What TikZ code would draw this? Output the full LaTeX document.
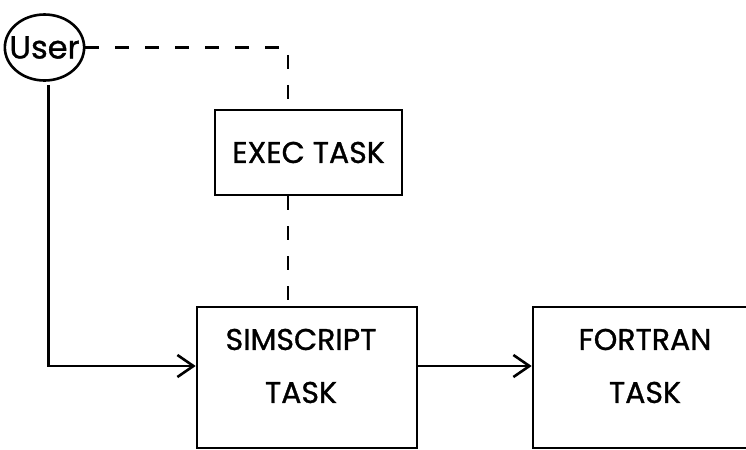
\documentclass[tikz,border=0pt]{standalone}
\usepackage{fontspec}
\setmainfont{Poppins}[UprightFeatures={FakeBold=1}]
\usetikzlibrary{arrows.meta, shapes.geometric}

\begin{document}
\begin{tikzpicture}[x=0.5pt, y=-0.5pt,
    box/.style={draw, line width=1.3pt, inner sep=0pt},
    caption/.style={font=\fontsize{15}{26.5}\selectfont, align=center},
    bus/.style={line width=1.3pt, dash pattern=on 7pt off 8pt},
    flow/.style={line width=1.3pt, -{Straight Barb[length=8pt, width=11pt, line width=1.3pt]}}]
    \useasboundingbox (0,0) rectangle (746,450);
    \clip (0,0) rectangle (746,450);

    % User
    \node[draw, ellipse, line width=1.3pt, minimum width=37.5pt, minimum height=33pt,
          inner xsep=-3.5pt, inner ysep=0pt, font=\fontsize{16}{18}\selectfont] (user) at (44.5,47.5) {User};

    % Executive task
    \node[box, caption, minimum width=93.5pt, minimum height=42.5pt] (exec) at (308.5,152.5) {EXEC TASK};

    % Simscript and Fortran tasks
    \node[box, minimum width=110pt, minimum height=70.5pt] (simscript) at (307,377.5) {};
    \node[caption] (simscriptText) at (301,366) {SIMSCRIPT\\TASK};
    \node[box, minimum width=115pt, minimum height=70.5pt] (fortran) at (648,377.5) {};
    \node[caption] (fortranText) at (645,366) {FORTRAN\\TASK};

    % Lanes for the connectors
    \coordinate (lane) at (288,0);
    \coordinate (row) at (0,366);

    \draw[bus] (user.east) -| (lane |- exec.north);
    \draw[bus] (lane |- exec.south) -- (lane |- simscript.north);
    \draw[flow, shorten <=1.5pt] ([xshift=2pt]user.south) |- (row -| simscript.west);
    \draw[flow] (row -| simscript.east) -- (row -| fortran.west);
\end{tikzpicture}
\end{document}
